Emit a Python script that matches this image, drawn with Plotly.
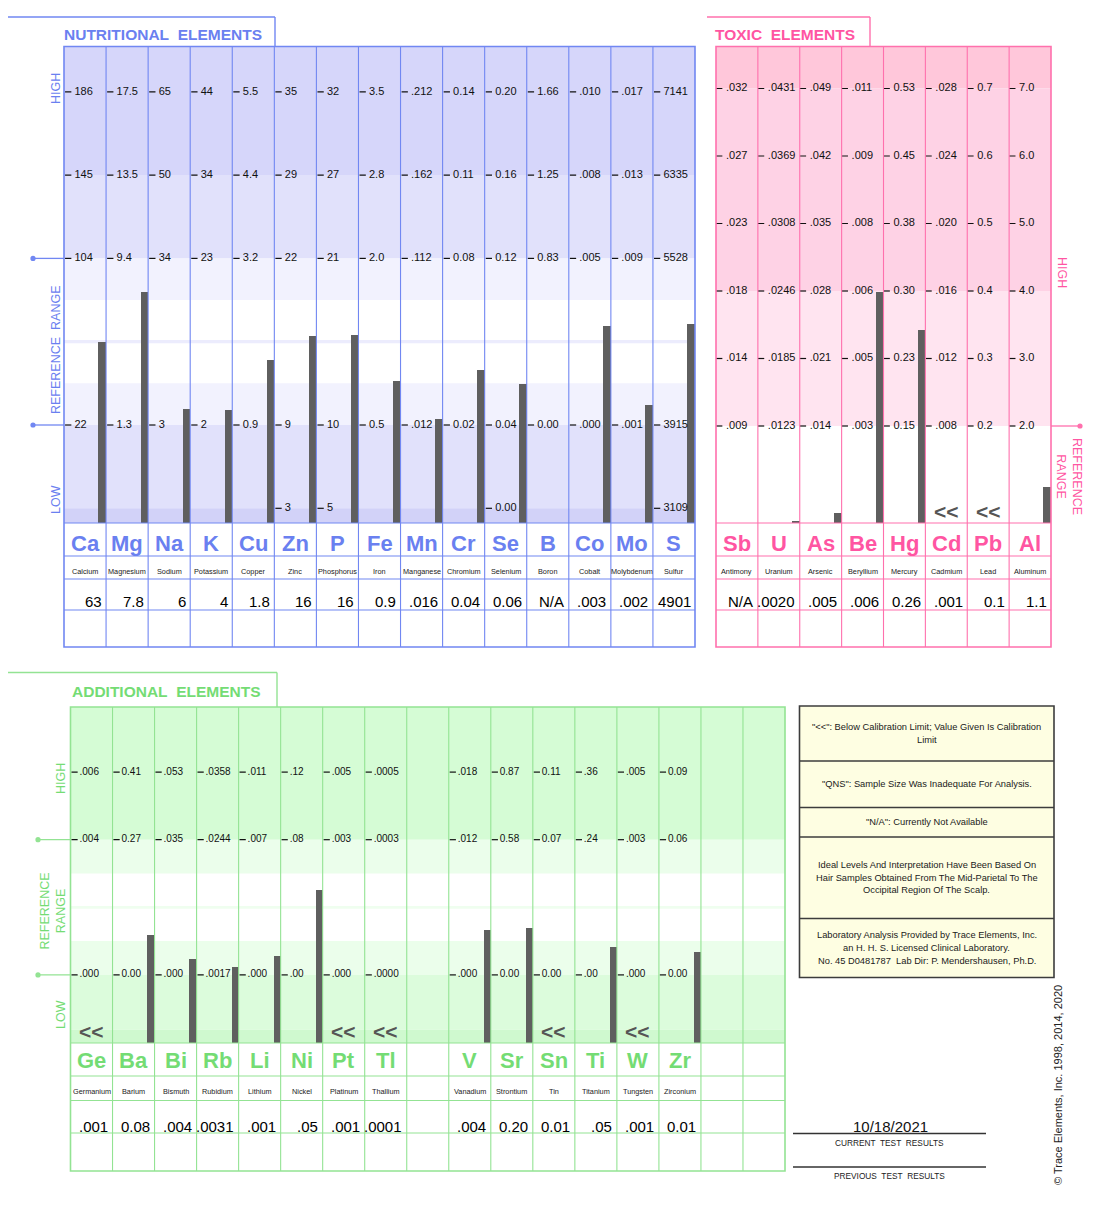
import numpy as np
import plotly.graph_objects as go

# ---------------- DATA ----------------
# Nutritional elements
nut_symbols = ["Ca", "Mg", "Na", "K", "Cu", "Zn", "P", "Fe", "Mn", "Cr", "Se", "B", "Co", "Mo", "S"]
nut_names = ["Calcium", "Magnesium", "Sodium", "Potassium", "Copper", "Zinc", "Phosphorus", "Iron",
             "Manganese", "Chromium", "Selenium", "Boron", "Cobalt", "Molybdenum", "Sulfur"]
nut_results = ["63", "7.8", "6", "4", "1.8", "16", "16", "0.9", ".016", "0.04", "0.06", "N/A", ".003", ".002", "4901"]
nut_tick_high2 = ["186", "17.5", "65", "44", "5.5", "35", "32", "3.5", ".212", "0.14", "0.20", "1.66", ".010", ".017", "7141"]
nut_tick_high1 = ["145", "13.5", "50", "34", "4.4", "29", "27", "2.8", ".162", "0.11", "0.16", "1.25", ".008", ".013", "6335"]
nut_tick_ref_hi = ["104", "9.4", "34", "23", "3.2", "22", "21", "2.0", ".112", "0.08", "0.12", "0.83", ".005", ".009", "5528"]
nut_tick_ref_lo = ["22", "1.3", "3", "2", "0.9", "9", "10", "0.5", ".012", "0.02", "0.04", "0.00", ".000", ".001", "3915"]
nut_tick_low = ["", "", "", "", "", "3", "5", "", "", "", "0.00", "", "", "", "3109"]

# Toxic elements
tox_symbols = ["Sb", "U", "As", "Be", "Hg", "Cd", "Pb", "Al"]
tox_names = ["Antimony", "Uranium", "Arsenic", "Beryllium", "Mercury", "Cadmium", "Lead", "Aluminum"]
tox_results = ["N/A", ".0020", ".005", ".006", "0.26", ".001", "0.1", "1.1"]
tox_below_limit = [False, False, False, False, False, True, True, False]
tox_tick_7 = [".032", ".0431", ".049", ".011", "0.53", ".028", "0.7", "7.0"]
tox_tick_6 = [".027", ".0369", ".042", ".009", "0.45", ".024", "0.6", "6.0"]
tox_tick_5 = [".023", ".0308", ".035", ".008", "0.38", ".020", "0.5", "5.0"]
tox_tick_4 = [".018", ".0246", ".028", ".006", "0.30", ".016", "0.4", "4.0"]
tox_tick_3 = [".014", ".0185", ".021", ".005", "0.23", ".012", "0.3", "3.0"]
tox_tick_2 = [".009", ".0123", ".014", ".003", "0.15", ".008", "0.2", "2.0"]

# Additional elements
add_symbols = ["Ge", "Ba", "Bi", "Rb", "Li", "Ni", "Pt", "Tl", "", "V", "Sr", "Sn", "Ti", "W", "Zr", "", ""]
add_names = ["Germanium", "Barium", "Bismuth", "Rubidium", "Lithium", "Nickel", "Platinum", "Thallium", "",
             "Vanadium", "Strontium", "Tin", "Titanium", "Tungsten", "Zirconium", "", ""]
add_results = [".001", "0.08", ".004", ".0031", ".001", ".05", ".001", ".0001", "",
               ".004", "0.20", "0.01", ".05", ".001", "0.01", "", ""]
add_below_limit = [True, False, False, False, False, False, True, True, False,
                   False, False, True, False, True, False, False, False]
add_tick_high = [".006", "0.41", ".053", ".0358", ".011", ".12", ".005", ".0005", "",
                 ".018", "0.87", "0.11", ".36", ".005", "0.09", "", ""]
add_tick_ref_hi = [".004", "0.27", ".035", ".0244", ".007", ".08", ".003", ".0003", "",
                   ".012", "0.58", "0.07", ".24", ".003", "0.06", "", ""]
add_tick_ref_lo = [".000", "0.00", ".000", ".0017", ".000", ".00", ".000", ".0000", "",
                   ".000", "0.00", "0.00", ".00", ".000", "0.00", "", ""]

legend_notes = [
    ['"<<": Below Calibration Limit; Value Given Is Calibration', 'Limit'],
    ['"QNS": Sample Size Was Inadequate For Analysis.'],
    ['"N/A": Currently Not Available'],
    ['Ideal Levels And Interpretation Have Been Based On', 'Hair Samples Obtained From The Mid-Parietal To The',
     'Occipital Region Of The Scalp.'],
    ['Laboratory Analysis Provided by Trace Elements, Inc.', 'an H. H. S. Licensed Clinical Laboratory.',
     'No. 45 D0481787  Lab Dir: P. Mendershausen, Ph.D.'],
]
test_date = "10/18/2021"
copyright_text = "© Trace Elements, Inc. 1998, 2014, 2020"

# ---------------- HELPERS ----------------
W, H = 1090, 1190
OX, OY = 8, 8


def px(X):
    return (X - OX) / W


def py(Y):
    return 1 - (Y - OY) / H


ARIAL = "Liberation Sans, Arial, Helvetica, sans-serif"


def num(s):
    try:
        return float(s)
    except (TypeError, ValueError):
        return None


fig = go.Figure()
shapes, annos = [], []


def pline(x0, y0, x1, y1, color, width=1.0):
    shapes.append(dict(type="line", xref="paper", yref="paper", x0=px(x0), y0=py(y0), x1=px(x1), y1=py(y1),
                       line=dict(color=color, width=width), layer="above"))


def prect(x0, y0, x1, y1, fill="rgba(0,0,0,0)", color="rgba(0,0,0,0)", width=0, layer="below"):
    shapes.append(dict(type="rect", xref="paper", yref="paper", x0=px(x0), y0=py(y0), x1=px(x1), y1=py(y1),
                       fillcolor=fill, line=dict(color=color, width=width), layer=layer))


def pdot(X, Y, r, color):
    shapes.append(dict(type="circle", xref="paper", yref="paper", x0=px(X - r), x1=px(X + r),
                       y0=py(Y + r), y1=py(Y - r), fillcolor=color, line=dict(width=0), layer="above"))


def ptext(X, Y, s, size, color="#000", family=ARIAL, xanchor="center", angle=0, bold=False):
    if bold:
        s = f"<b>{s}</b>"
    annos.append(dict(xref="paper", yref="paper", x=px(X), y=py(Y), text=s, showarrow=False,
                      xanchor=xanchor, yanchor="middle", textangle=angle,
                      font=dict(size=size, color=color, family=family)))


def panel(P, symbols, names, results, tick_rows, level_of, below):
    n = P["n"]
    sfx = "" if n == 1 else str(n)
    xa, ya = f"x{sfx}", f"y{sfx}"
    ncols = len(symbols)
    colw = (P["right"] - P["left"]) / ncols
    lev = lambda Y: (P["y0"] - Y) / P["unit"]
    top_l, bot_l = lev(P["top"]), lev(P["bar_bottom"])
    fig.update_layout(**{
        f"xaxis{sfx}": dict(domain=[px(P["left"]), px(P["right"])], range=[-0.5, ncols - 0.5],
                            visible=False, fixedrange=True, anchor=ya),
        f"yaxis{sfx}": dict(domain=[py(P["bar_bottom"]), py(P["top"])], range=[bot_l, top_l],
                            visible=False, fixedrange=True, anchor=xa),
    })
    # background bands
    for l0, l1, c in P["bands"]:
        l0 = top_l if l0 == "top" else (bot_l if l0 == "bot" else l0)
        l1 = top_l if l1 == "top" else (bot_l if l1 == "bot" else l1)
        shapes.append(dict(type="rect", xref=f"{xa} domain", yref=ya, x0=0, x1=1, y0=l0, y1=l1,
                           fillcolor=c, line=dict(width=0), layer="below"))
    # ticks
    dash_off = P["dash_off"] / colw
    text_off = P["text_off"] / colw
    for level, labels in tick_rows:
        idx = [i for i, t in enumerate(labels) if t]
        fig.add_trace(go.Scatter(
            x=[i - 0.5 + dash_off for i in idx], y=[level] * len(idx), mode="markers",
            marker=dict(symbol="line-ew", size=4.5, line=dict(width=1.2, color="#111")),
            xaxis=xa, yaxis=ya, hoverinfo="skip", showlegend=False))
        fig.add_trace(go.Scatter(
            x=[i - 0.5 + text_off for i in idx], y=[level] * len(idx), mode="text",
            text=[labels[i] for i in idx], textposition="middle right",
            textfont=dict(size=P["tick_size"], family=ARIAL, color="#111"),
            xaxis=xa, yaxis=ya, hoverinfo="skip", showlegend=False))
    # bars
    bw = 7.6 / colw
    bx, bh = [], []
    for i in range(ncols):
        v = num(results[i])
        if v is None or below[i]:
            continue
        l = level_of(i, v)
        bx.append(i + 0.5 - bw / 2)
        bh.append(max(l - bot_l, 0.03))
    fig.add_trace(go.Bar(x=bx, y=bh, base=bot_l, width=bw, marker=dict(color="#5f5f5f", line=dict(width=0)),
                         xaxis=xa, yaxis=ya, hoverinfo="skip", showlegend=False))
    # below-limit markers
    for i in range(ncols):
        if below[i]:
            ptext(P["left"] + (i + 0.5) * colw, P["ll_y"], "&lt;&lt;", 21, "#555555", ARIAL, bold=True)
    # table lines
    L, R = P["left"], P["right"]
    rows = P["rows"]
    for Y in rows[:-1]:
        pline(L, Y, R, Y, P["line"], 1.2)
    for i in range(1, ncols):
        X = L + i * colw
        pline(X, P["top"], X, rows[-1], P["line"], 1.1)
    prect(L, P["top"], R, rows[-1], color=P["line"], width=1.6, layer="above")
    # table text
    for i in range(ncols):
        cx = L + (i + 0.5) * colw
        if symbols[i]:
            ptext(cx, P["sym_y"], symbols[i], P["sym_size"], P["text"], ARIAL, bold=True)
        if names[i]:
            ptext(cx, P["name_y"], names[i], 7.3, "#222", ARIAL)
        if results[i]:
            ptext(L + (i + 1) * colw - 2.5, P["val_y"], results[i], 15, "#000", ARIAL, xanchor="right")


# ---------------- NUTRITIONAL PANEL ----------------
NUT_LINE, NUT_TEXT = "#7187f2", "#6a80f0"
NUT = dict(n=1, left=64, right=695, top=46.5, bar_bottom=523, rows=[523, 556, 579, 610, 647],
           y0=508.3, unit=83.3, line=NUT_LINE, text=NUT_TEXT, dash_off=4.2, text_off=10.5,
           tick_size=11, sym_size=22, sym_y=543, name_y=571, val_y=601, ll_y=511,
           bands=[(4, "top", "#d6d6fa"), (3, 4, "#e1e1fb"), (2.5, 3, "#f2f2fe"), (1.98, 2.02, "#ececfd"),
                  (1, 1.5, "#f2f2fe"), (0, 1, "#e1e1fb"), ("bot", 0, "#d2d2f8")])


def nut_level(i, v):
    levs, vals = [], []
    if nut_tick_low[i]:
        levs.append(0); vals.append(num(nut_tick_low[i]))
    for l, arr in [(1, nut_tick_ref_lo), (3, nut_tick_ref_hi), (4, nut_tick_high1), (5, nut_tick_high2)]:
        levs.append(l); vals.append(num(arr[i]))
    return float(np.interp(v, vals, levs))


panel(NUT, nut_symbols, nut_names, nut_results,
      [(5, nut_tick_high2), (4, nut_tick_high1), (3, nut_tick_ref_hi), (1, nut_tick_ref_lo), (0, nut_tick_low)],
      nut_level, [False] * len(nut_symbols))

pline(8, 17, 275, 17, NUT_LINE, 1.4)
pline(275, 17, 275, 46.5, NUT_LINE, 1.4)
ptext(62, 34, "NUTRITIONAL\u00a0 ELEMENTS", 15.5, NUT_TEXT, ARIAL, xanchor="left", bold=True)
for lv in (3, 1):
    Y = NUT["y0"] - NUT["unit"] * lv
    pline(33, Y, 64, Y, NUT_LINE, 1.3)
    pdot(33, Y, 2.6, NUT_LINE)
ptext(56, 89, "HIGH", 12.5, NUT_TEXT, ARIAL, angle=-90)
ptext(56, 350, "REFERENCE\u00a0 RANGE", 12.5, NUT_TEXT, ARIAL, angle=-90)
ptext(56, 500, "LOW", 12.5, NUT_TEXT, ARIAL, angle=-90)

# ---------------- TOXIC PANEL ----------------
TOX_LINE, TOX_TEXT = "#ff70ad", "#ff55a2"
TOX = dict(n=2, left=716, right=1051, top=46.5, bar_bottom=523, rows=[523, 556, 579, 610, 647],
           y0=561, unit=67.5, line=TOX_LINE, text=TOX_TEXT, dash_off=3.2, text_off=10.0,
           tick_size=11, sym_size=22, sym_y=543, name_y=571, val_y=601, ll_y=511.5,
           bands=[(7, "top", "#ffc7da"), (4, 7, "#fed2e5"), (2, 4, "#ffe4f0")])


def tox_level(i, v):
    levs = [0, 2, 3, 4, 5, 6, 7]
    vals = [0] + [num(a[i]) for a in (tox_tick_2, tox_tick_3, tox_tick_4, tox_tick_5, tox_tick_6, tox_tick_7)]
    return float(np.interp(v, vals, levs))


panel(TOX, tox_symbols, tox_names, tox_results,
      [(7, tox_tick_7), (6, tox_tick_6), (5, tox_tick_5), (4, tox_tick_4), (3, tox_tick_3), (2, tox_tick_2)],
      tox_level, tox_below_limit)

pline(707, 17, 870, 17, TOX_LINE, 1.4)
pline(870, 17, 870, 46.5, TOX_LINE, 1.4)
ptext(713, 34, "TOXIC\u00a0 ELEMENTS", 15.5, TOX_TEXT, ARIAL, xanchor="left", bold=True)
Yr = TOX["y0"] - TOX["unit"] * 2
pline(1051, Yr, 1080, Yr, TOX_LINE, 1.3)
pdot(1080, Yr, 2.6, TOX_LINE)
ptext(1062, 272, "HIGH", 12.5, TOX_TEXT, ARIAL, angle=90)
ptext(1069, 476, "REFERENCE<br>RANGE", 12.5, TOX_TEXT, ARIAL, angle=90)

# ---------------- ADDITIONAL PANEL ----------------
ADD_LINE, ADD_TEXT = "#93e393", "#74dc74"
ADD = dict(n=3, left=70.5, right=785, top=707, bar_bottom=1043, rows=[1043, 1076, 1100.5, 1133, 1171],
           y0=1042.5, unit=67.6, line=ADD_LINE, text=ADD_TEXT, dash_off=4.0, text_off=9.0,
           tick_size=10, sym_size=22, sym_y=1060, name_y=1091, val_y=1126, ll_y=1031.5,
           bands=[(3, "top", "#d5fcd5"), (2.5, 3, "#ebfeeb"), (1.98, 2.02, "#effeef"), (1, 1.5, "#ebfeeb"),
                  (0.19, 1, "#dcfcdc"), ("bot", 0.19, "#cff9cf")])


def add_level(i, v):
    levs = [1, 3, 4]
    vals = [num(a[i]) for a in (add_tick_ref_lo, add_tick_ref_hi, add_tick_high)]
    return float(np.interp(v, vals, levs))


panel(ADD, add_symbols, add_names, add_results,
      [(4, add_tick_high), (3, add_tick_ref_hi), (1, add_tick_ref_lo)],
      add_level, add_below_limit)

pline(8, 672.5, 277, 672.5, ADD_LINE, 1.4)
pline(277, 672.5, 277, 707, ADD_LINE, 1.4)
ptext(70, 691, "ADDITIONAL\u00a0 ELEMENTS", 15.5, ADD_TEXT, ARIAL, xanchor="left", bold=True)
for lv in (3, 1):
    Y = ADD["y0"] - ADD["unit"] * lv
    pline(38, Y, 70.5, Y, ADD_LINE, 1.3)
    pdot(38, Y, 2.6, ADD_LINE)
ptext(61, 779, "HIGH", 12.5, ADD_TEXT, ARIAL, angle=-90)
ptext(52.5, 911, "REFERENCE<br>RANGE", 12.5, ADD_TEXT, ARIAL, angle=-90)
ptext(61, 1015, "LOW", 12.5, ADD_TEXT, ARIAL, angle=-90)

# ---------------- LEGEND BOX ----------------
BOX_L, BOX_R = 799.5, 1054
box_edges = [706, 761, 807.5, 837, 918.5, 977.5]
prect(BOX_L, box_edges[0], BOX_R, box_edges[-1], fill="#fefee2", layer="below")
for Y in box_edges[1:-1]:
    pline(BOX_L, Y, BOX_R, Y, "#3c3c3c", 1.5)
prect(BOX_L, box_edges[0], BOX_R, box_edges[-1], color="#3c3c3c", width=1.6, layer="above")
for k, lines in enumerate(legend_notes):
    cy = (box_edges[k] + box_edges[k + 1]) / 2
    nl = len(lines)
    for j, s in enumerate(lines):
        ptext((BOX_L + BOX_R) / 2, cy + (j - (nl - 1) / 2) * 12.7, s.replace("  ", "\u00a0 "), 9.3, "#1a1a1a", ARIAL)

# ---------------- DATE / RESULTS ----------------
ptext(890, 1126, test_date, 15, "#111", ARIAL)
pline(793, 1133.5, 986, 1133.5, "#333", 1.3)
ptext(889, 1143, "CURRENT\u00a0 TEST\u00a0 RESULTS", 8.3, "#222", ARIAL)
pline(793, 1167, 986, 1167, "#333", 1.3)
ptext(889, 1176, "PREVIOUS\u00a0 TEST\u00a0 RESULTS", 8.3, "#222", ARIAL)
ptext(1058, 1085, copyright_text, 11, "#222", ARIAL, angle=-90)

fig.update_layout(
    width=W, height=H, autosize=False, template="none",
    margin=dict(l=0, r=0, t=0, b=0, pad=0),
    paper_bgcolor="white", plot_bgcolor="rgba(0,0,0,0)",
    showlegend=False, barmode="overlay", bargap=0,
    shapes=shapes, annotations=annos,
)

fig.write_html("out.html")
